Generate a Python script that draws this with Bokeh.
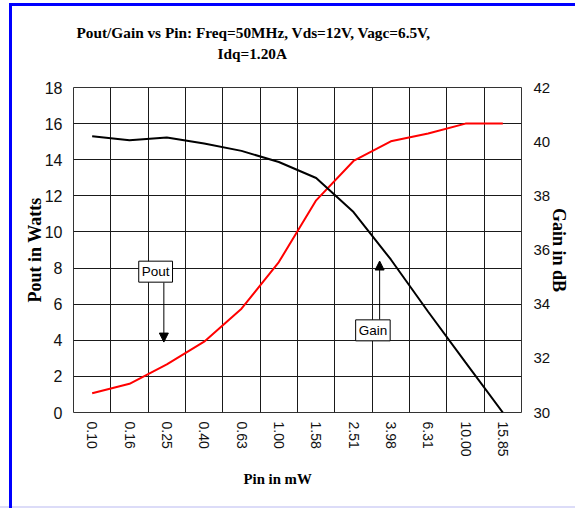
from math import pi
from bokeh.plotting import figure
from bokeh.models import (Range1d, LinearAxis, FixedTicker, Label, Arrow,
                          NormalHead, Title)
from bokeh.embed import file_html
from bokeh.resources import INLINE

# ---- data ----
pin_labels = ["0.10", "0.16", "0.25", "0.40", "0.63", "1.00",
              "1.58", "2.51", "3.98", "6.31", "10.00", "15.85"]
pout_w = [1.07, 1.59, 2.66, 3.92, 5.75, 8.33,
          11.75, 13.93, 15.02, 15.45, 16.0, 16.0]
gain_db = [40.2, 40.05, 40.15, 39.93, 39.66, 39.25,
           38.66, 37.4, 35.65, 33.72, 31.85, 30.0]
pout_ticks = [0, 2, 4, 6, 8, 10, 12, 14, 16, 18]
gain_ticks = [30, 32, 34, 36, 38, 40, 42]
title_line1 = "Pout/Gain vs Pin: Freq=50MHz, Vds=12V, Vagc=6.5V,"
title_line2 = "Idq=1.20A"
x_title = "Pin in mW"
y_title = "Pout in Watts"
y2_title = "Gain in dB"

xs = [i + 0.5 for i in range(len(pin_labels))]

SANS = "Liberation Sans"
SERIF = "Liberation Serif"

p = figure(width=575, height=508,
           x_range=Range1d(0, len(pin_labels)),
           y_range=Range1d(pout_ticks[0], pout_ticks[-1]),
           output_backend="svg", toolbar_location=None,
           min_border_left=73, min_border_right=54,
           min_border_top=87, min_border_bottom=96)
p.extra_y_ranges = {"gain": Range1d(gain_ticks[0], gain_ticks[-1])}
p.background_fill_color = "white"
p.border_fill_color = None
p.outline_line_color = "#333333"
p.outline_line_width = 1
# page frame (blue left/top rule, light bottom rule) painted behind the canvas
p.styles = {
    "background-color": "white",
    "background-image": ("linear-gradient(#0000ff, #0000ff), "
                         "linear-gradient(#0000ff, #0000ff), "
                         "linear-gradient(#dcdcf8, #dcdcf8)"),
    "background-size": "3px 100%, 100% 3px, 100% 2px",
    "background-position": "9px 3px, 9px 3px, 0px 506px",
    "background-repeat": "no-repeat",
}

# grids
p.xgrid.ticker = FixedTicker(ticks=list(range(len(pin_labels) + 1)))
p.ygrid.ticker = FixedTicker(ticks=pout_ticks)
for g in (p.xgrid, p.ygrid):
    g.grid_line_color = "#1a1a1a"
    g.grid_line_width = 1

# x axis
xa = p.xaxis[0]
xa.ticker = FixedTicker(ticks=xs)
xa.major_label_overrides = {x: lab for x, lab in zip(xs, pin_labels)}
xa.major_label_orientation = -pi / 2
xa.major_label_standoff = 9
xa.major_label_text_font = SANS
xa.major_label_text_font_size = "14px"
xa.major_label_text_color = "#111111"

# left y axis
ya = p.yaxis[0]
ya.ticker = FixedTicker(ticks=pout_ticks)
ya.axis_label = y_title
ya.major_label_standoff = 11
ya.axis_label_standoff = -3
ya.major_label_text_font = SANS
ya.major_label_text_font_size = "16px"
ya.major_label_text_color = "#111111"

# right y axis
ra = LinearAxis(y_range_name="gain", ticker=FixedTicker(ticks=gain_ticks),
                axis_label=y2_title)
ra.major_label_standoff = 12
ra.axis_label_standoff = -4
ra.major_label_text_font = SANS
ra.major_label_text_font_size = "15px"
ra.major_label_text_color = "#111111"
p.add_layout(ra, "right")

for ax in (xa, ya, ra):
    ax.axis_line_color = None
    ax.major_tick_line_color = None
    ax.minor_tick_line_color = None
    ax.major_tick_out = 0
    ax.major_tick_in = 0
    ax.minor_tick_out = 0
    ax.minor_tick_in = 0
    ax.axis_label_text_font = SERIF
    ax.axis_label_text_font_style = "bold"
    ax.axis_label_text_font_size = "18px"
    ax.axis_label_text_color = "black"

# title (two lines, stacked outward from the frame)
spacer = Title(text=" ", align="left", standoff=6,
               text_font=SERIF, text_font_size="15.3px")
t2 = Title(text=title_line2, align="left", offset=144, standoff=2,
           text_font=SERIF, text_font_style="bold", text_font_size="15.3px",
           text_color="black")
t1 = Title(text=title_line1, align="left", offset=3, standoff=2,
           text_font=SERIF, text_font_style="bold", text_font_size="15.3px",
           text_color="black")
p.add_layout(spacer, "above")
p.add_layout(t2, "above")
p.add_layout(t1, "above")

# x axis title
xt = Title(text=x_title, align="left", offset=170, standoff=23,
           vertical_align="top",
           text_font=SERIF, text_font_style="bold", text_font_size="14.8px",
           text_color="black")
p.add_layout(xt, "below")

# series
p.line(xs, pout_w, line_color="#ff0000", line_width=2)
p.line(xs, gain_db, line_color="black", line_width=2, y_range_name="gain")

# annotations
p.add_layout(Arrow(end=NormalHead(size=9, fill_color="black", line_color="black"),
                   x_start=2.42, y_start=7.2, x_end=2.42, y_end=3.9,
                   line_color="black", line_width=1))
p.add_layout(Label(x=2.2, y=7.8, text="Pout", text_align="center",
                   text_baseline="middle", text_font=SANS,
                   text_font_size="13.5px", text_color="black",
                   border_line_color="black", background_fill_color="white",
                   padding=3))
p.add_layout(Arrow(end=NormalHead(size=9, fill_color="black", line_color="black"),
                   x_start=8.2, y_start=5.14, x_end=8.2, y_end=8.39,
                   line_color="black", line_width=1))
p.add_layout(Label(x=8.02, y=4.55, text="Gain", text_align="center",
                   text_baseline="middle", text_font=SANS,
                   text_font_size="13.5px", text_color="black",
                   border_line_color="black", background_fill_color="white",
                   padding=3))

open("out.html", "w").write(file_html(p, INLINE))
